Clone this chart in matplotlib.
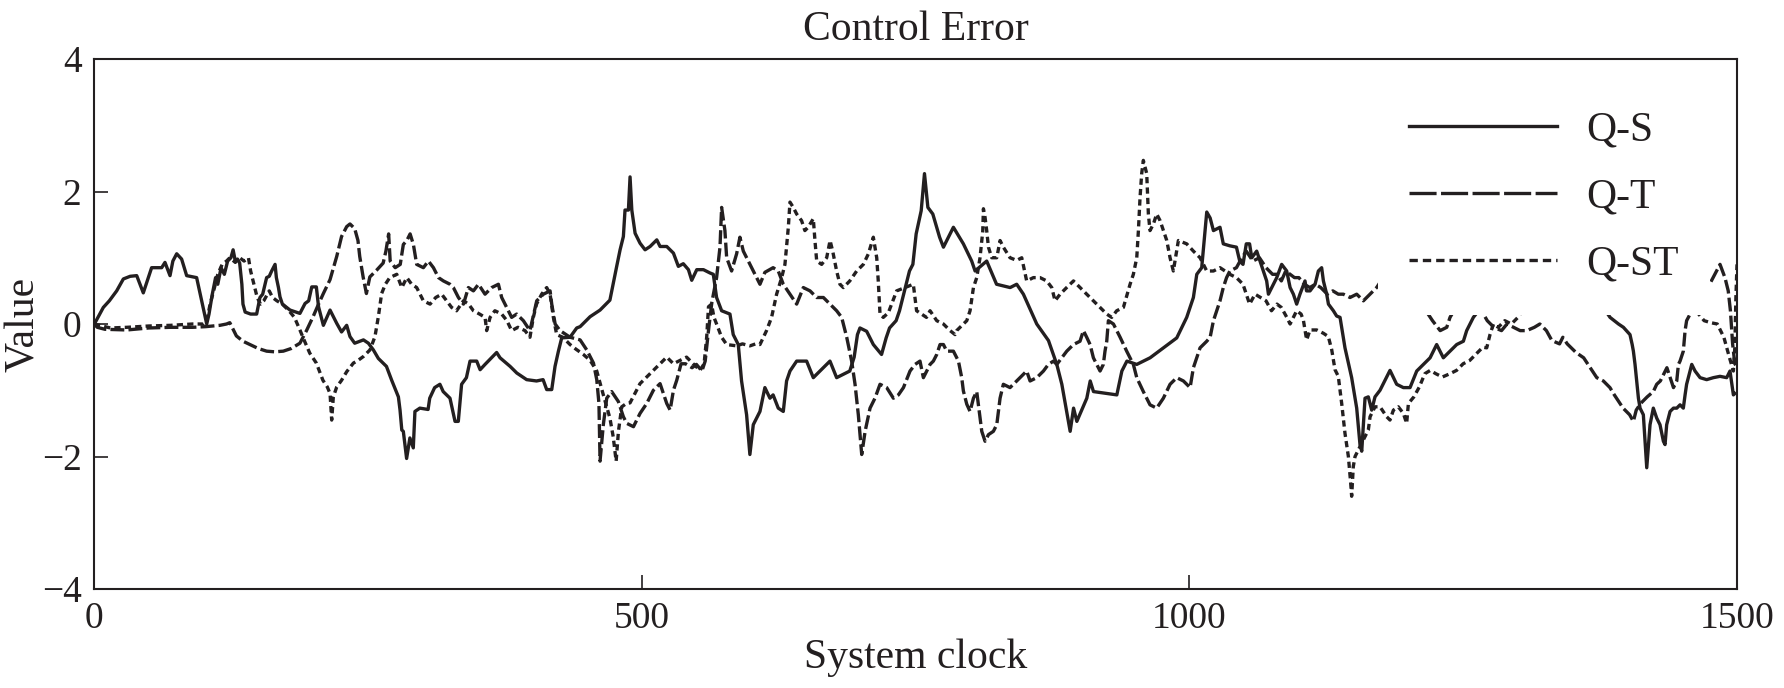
import matplotlib
matplotlib.use('Agg')
import matplotlib.pyplot as plt
from matplotlib.lines import Line2D

# ---------------- data ----------------
series_names = ['Q-S', 'Q-T', 'Q-ST']

qs_clock = [0, 1, 8.5, 14, 20.7, 26.8, 33, 39, 45, 49.6, 52.6, 61.8, 64.8, 69.4, 72, 75.5, 80, 84.6, 93.7, 98.3,
            102.9, 105, 108, 111, 113, 116, 119, 122, 125, 127, 129, 131, 133, 135, 136, 138, 143, 148.5, 151.5, 154,
            157.6, 160, 162.2, 165.3, 166.5, 168.4, 169.8, 172, 179, 188, 192.7, 196, 198.8, 203, 205, 209.4, 215.5,
            221.6, 226, 230.7, 233.7, 238, 246, 250.5, 255, 259.6, 267, 271.8, 277.9, 279.4, 281, 282.4, 285.4, 288.4,
            291.5, 293, 297.5, 305, 306.5, 311, 315.8, 318.8, 325, 329.6, 332.6, 335.6, 340, 343.3, 349.4, 352.5, 357,
            367.6, 370.7, 379.9, 386, 395, 404, 410, 413.3, 417.9, 420.9, 424, 427, 434.6, 440.7, 443.8, 452.9, 462,
            471, 474, 477.2, 480.3, 483.3, 484.8, 487.9, 489.4, 491, 494, 498.5, 503.1, 507.7, 513.8, 516.8, 522.9,
            529, 533.5, 538, 542.7, 545.7, 550.3, 556.4, 562.4, 565.4, 568.4, 573, 580.6, 583.6, 588.2, 591.2, 595.8,
            598.8, 601.9, 608, 612.5, 617.1, 620, 624.7, 629.3, 632.3, 635.4, 641.5, 650.6, 656.7, 662.8, 671.9, 678,
            690, 694, 697, 699.3, 705.4, 711.5, 719, 723.2, 726.3, 732.3, 735.4, 740, 744.5, 747.6, 750.6, 755.2,
            758.2, 761.3, 765.8, 772, 775.5, 784.6, 793.7, 801.3, 804.4, 815, 824, 836.4, 842.4, 848.5, 860.7, 871.4,
            879, 883.6, 891.2, 894.3, 897.3, 906.4, 909.5, 912.5, 933.8, 938.4, 943, 952, 964.2, 976.3, 988.5, 997.6,
            1003.7, 1006.8, 1011.3, 1015.9, 1019, 1022, 1028, 1031, 1037, 1043, 1046, 1049, 1052, 1055, 1057, 1061.5,
            1064.5, 1067.6, 1070.6, 1072.2, 1076.7, 1079.8, 1084.3, 1088.9, 1092, 1095, 1098, 1101, 1105.6, 1107,
            1110.2, 1114.8, 1117.8, 1120.8, 1122.4, 1125.4, 1127, 1131.5, 1134.5, 1137.6, 1142.1, 1148.2, 1152.8,
            1155.8, 1157.4, 1160.4, 1163.4, 1166.5, 1169.5, 1174.1, 1180.2, 1183.2, 1189.3, 1195.4, 1201.5, 1207.6,
            1213.7, 1219.8, 1225.8, 1231.9, 1238, 1244.1, 1250.2, 1253.2, 1259.3, 1264, 1275, 1295, 1320, 1345, 1365,
            1378, 1384.1, 1391.8, 1396.3, 1399.5, 1402.3, 1404.3, 1405.4, 1406.9, 1408.4, 1410, 1411.5, 1414.5,
            1417.6, 1420.6, 1423.6, 1426.7, 1429.7, 1432.8, 1434.3, 1435.8, 1438.9, 1442, 1445, 1448, 1451, 1452.6,
            1454, 1455.6, 1458.7, 1461.7, 1466.3, 1472.3, 1478.4, 1484.5, 1490.6, 1493.6, 1496.7, 1498]
qs_value = [0.0, 0.02, 0.25, 0.35, 0.5, 0.68, 0.72, 0.73, 0.47, 0.70, 0.85, 0.85, 0.93, 0.73, 0.95, 1.06, 0.98, 0.73, 0.70, 0.35,
            0.0, 0.15, 0.45, 0.7, 0.6, 0.85, 0.75, 0.95, 1.0, 1.12, 0.95, 0.98, 0.92, 0.6, 0.3, 0.18, 0.15, 0.15, 0.4, 0.45,
            0.7, 0.72, 0.8, 0.9, 0.7, 0.55, 0.41, 0.3, 0.21, 0.16, 0.31, 0.35, 0.56, 0.56, 0.26, -0.02, 0.21,
            0.01, -0.12, -0.02, -0.19, -0.29, -0.24, -0.29, -0.39, -0.52, -0.64, -0.85, -1.1, -1.3, -1.6, -1.62, -2.03, -1.72,
            -1.87, -1.32, -1.27, -1.29, -1.12, -0.96, -0.91, -1.02, -1.12, -1.47, -1.47, -0.91, -0.81, -0.56, -0.56, -0.69, -0.61,
            -0.43, -0.51, -0.64, -0.74, -0.84, -0.86, -0.84, -0.99, -0.99, -0.64, -0.41, -0.21, -0.2, -0.06, -0.04, 0.11, 0.21,
            0.36, 0.61, 0.87, 1.12, 1.32, 1.72, 1.72, 2.22, 1.72, 1.37, 1.22, 1.12, 1.17, 1.27, 1.17, 1.17,
            1.07, 0.87, 0.91, 0.82, 0.66, 0.82, 0.82, 0.77, 0.75, 0.4, 0.2, 0.15, -0.16, -0.31, -0.86, -1.37,
            -1.97, -1.52, -1.32, -0.96, -1.12, -1.07, -1.27, -1.32, -0.86, -0.71, -0.56, -0.56, -0.81, -0.71, -0.56, -0.81,
            -0.71, -0.5, -0.16, -0.06, -0.11, -0.31, -0.46, -0.21, -0.06, 0.05, 0.2, 0.5, 0.8, 0.9, 1.36, 1.71,
            2.27, 1.76, 1.66, 1.31, 1.16, 1.46, 1.21, 0.95, 0.8, 0.95, 0.6, 0.55, 0.6, 0.45, 0.0, -0.25,
            -0.61, -0.91, -1.62, -1.27, -1.47, -1.12, -0.86, -1.02, -1.07, -0.71, -0.56, -0.61, -0.51, -0.36, -0.21, 0.1,
            0.4, 0.75, 0.85, 1.69, 1.6, 1.41, 1.46, 1.21, 1.18, 1.16, 0.95, 0.9, 1.21, 1.21, 1.0, 1.1,
            0.95, 0.8, 0.65, 0.45, 0.6, 0.7, 0.9, 0.8, 0.55, 0.45, 0.3, 0.45, 0.65, 0.5,
            0.5, 0.6, 0.8, 0.85, 0.65, 0.45, 0.3, 0.2, 0.12, 0.1, -0.36, -0.81, -1.27,
            -1.82, -1.92, -1.12, -1.1, -1.3, -1.1, -1.0, -0.8, -0.7, -0.91, -0.96, -0.96, -0.71,
            -0.61, -0.51, -0.31, -0.51, -0.41, -0.31, -0.26, -0.1, 0.1, 0.2, 0.35, 0.45, 0.4, 0.5, 0.35,
            0.25, 0.1, 0.0, -0.05, -0.11, -0.16, -0.31, -0.41, -0.61, -0.86, -1.12, -1.27, -1.37,
            -2.17, -1.52, -1.27, -1.42, -1.52, -1.77, -1.82, -1.52, -1.32, -1.27, -1.27, -1.22, -1.27, -1.07,
            -0.91, -0.81, -0.61, -0.71, -0.81, -0.84, -0.81, -0.79, -0.81, -0.71, -1.07, -1.05]

qt_clock = [0, 3, 10, 30, 50, 70, 90, 102, 115, 121, 124, 127, 130, 136, 142.4, 150, 157.6, 165, 172.8, 180, 188, 194,
            200, 205, 209.4, 215.5, 221.6, 226, 230.7, 233.7, 238, 241, 242.6, 245.7, 248.7, 251.8, 257.9, 264, 266.5,
            269, 270.4, 275, 279.6, 282.4, 285.6, 288.6, 291.6, 294.6, 300.7, 305.3, 309.9, 314.5, 319, 325, 328.1,
            332.7, 337.3, 341.8, 346.4, 351, 357, 363.1, 369.2, 372.2, 376.8, 381.3, 385.9, 392, 398, 404.2, 410.3,
            416.4, 417.9, 421, 425.5, 434.6, 443.8, 449.8, 456, 459, 461, 462, 465, 468.1, 472.6, 478.7, 483.3, 486.4,
            492.5, 498.5, 504.6, 510.7, 516.8, 522.9, 526, 529, 532, 536, 540, 546, 550, 555, 558, 561, 564, 568.4,
            571.5, 573, 576, 577.6, 582.1, 586.7, 589.7, 592.8, 598.9, 605, 608, 612.5, 620, 624.7, 629.3, 635.4,
            641.5, 647.6, 653.7, 659.8, 665.9, 672, 678, 682.6, 687.2, 691.7, 694.8, 697.8, 700.9, 704, 708.5, 713,
            717.6, 723.7, 729.8, 734.4, 739, 745, 749.6, 754.1, 757.2, 763.3, 766.3, 769.4, 772.4, 775.5, 778.5,
            784.6, 789.2, 792.2, 793.7, 796.8, 799.8, 802.9, 805.9, 807.4, 808.9, 810.5, 813.5, 816.6, 821.1, 824.2,
            825.7, 827.2, 830.2, 836.3, 842.4, 848.5, 851.5, 854.6, 860.7, 866.8, 871.3, 875.9, 879, 883.5, 888.1,
            894.2, 900.2, 903.3, 906.3, 909.4, 912.4, 915.5, 918.5, 921.5, 923, 924.6, 926.1, 930.7, 936.8, 942.8,
            948.9, 952, 958, 964.1, 970.2, 976.3, 982.4, 988.5, 994.6, 1000.7, 1003.7, 1006.7, 1009.8, 1015.9, 1019,
            1022, 1025, 1028, 1031, 1034, 1037, 1043, 1048, 1052, 1058, 1064, 1070, 1076, 1080, 1084, 1088, 1092,
            1096, 1100, 1105, 1110, 1115, 1120, 1126, 1131, 1136, 1140.6, 1146.7, 1152.8, 1158.9, 1165, 1171, 1175,
            1185, 1198, 1210, 1218, 1222, 1229, 1235, 1238, 1245, 1255, 1265, 1272, 1278, 1285, 1290, 1296, 1302,
            1308, 1315, 1320, 1326, 1331, 1338, 1341, 1345, 1353, 1360, 1366, 1372, 1378, 1384, 1388, 1392, 1396,
            1402, 1405.4, 1408, 1412, 1418, 1423.6, 1426.7, 1430, 1433, 1436, 1439, 1442, 1445, 1446.5, 1448, 1451,
            1452.6, 1454, 1455.6, 1465, 1475, 1484.5, 1489, 1492, 1494, 1496, 1498, 1500]
qt_value = [0.0, -0.05, -0.08, -0.09, -0.06, -0.05, -0.05, -0.04, -0.02, 0.0, 0.02, -0.08, -0.18, -0.26, -0.31, -0.37, -0.41, -0.42, -0.41, -0.37, -0.29, -0.1,
            0.11, 0.3, 0.46, 0.67, 1.02, 1.32, 1.47, 1.51, 1.44, 1.26, 1.02, 0.71, 0.46, 0.71, 0.81, 0.92, 1.1,
            1.36, 0.95, 0.85, 0.9, 1.2, 1.26, 1.36, 1.2, 0.9, 0.85, 0.95, 0.85, 0.7, 0.65, 0.6, 0.55,
            0.4, 0.3, 0.55, 0.5, 0.6, 0.45, 0.55, 0.6, 0.4, 0.25, 0.1, 0.15, 0.05, -0.1, 0.35, 0.45,
            0.5, 0.3, 0.0, -0.1, -0.2, -0.24, -0.39, -0.59, -0.84, -1.2, -2.07, -1.52, -1.12, -1.02, -1.17, -1.4, -1.5,
            -1.55, -1.35, -1.2, -1.0, -0.9, -1.2, -1.3, -1.0, -0.85, -0.6, -0.6, -0.66, -0.61, -0.71, -0.56, -0.1, 0.32, 0.7,
            1.16, 1.76, 1.41, 1.0, 0.8, 1.06, 1.31, 1.1, 0.9, 0.7, 0.6, 0.78, 0.85, 0.8, 0.6, 0.45,
            0.3, 0.55, 0.5, 0.4, 0.4, 0.3, 0.2, 0.1, -0.2, -0.56, -0.91, -1.37, -1.97, -1.62, -1.27, -1.12,
            -0.91, -0.96, -1.12, -1.07, -0.96, -0.71, -0.61, -0.56, -0.81, -0.61, -0.56, -0.46, -0.31, -0.31, -0.41,
            -0.41, -0.56, -0.81, -1.01, -1.21, -1.32, -1.12, -1.02, -1.22, -1.42, -1.62, -1.77, -1.67, -1.62, -1.52,
            -1.32, -1.12, -0.91, -0.96, -0.86, -0.76, -0.71, -0.86, -0.81, -0.71, -0.61, -0.56, -0.61, -0.51, -0.41,
            -0.31, -0.26, -0.1, -0.2, -0.31, -0.51, -0.61, -0.71, -0.61, -0.41, -0.26, 0.05, 0.0, -0.2, -0.41,
            -0.61, -0.81, -1.02, -1.22, -1.27, -1.12, -0.91, -0.81, -0.86, -0.96, -0.66, -0.51, -0.36, -0.26, -0.2,
            0.05, 0.2, 0.35, 0.55, 0.7, 0.8, 0.85, 1.0, 1.1, 0.95, 1.0, 0.85, 0.75, 0.75, 0.65, 0.8, 0.75,
            0.7, 0.7, 0.6, 0.55, 0.6, 0.55, 0.45, 0.5, 0.45, 0.45, 0.4, 0.45, 0.35, 0.45, 0.55, 0.65,
            0.7, 0.6, 0.4, 0.15, 0.05, -0.1, -0.05, 0.1, 0.3, 0.35, 0.25, 0.05, -0.05, -0.1, 0.0, -0.05, -0.1,
            -0.1, -0.05, 0.0, -0.1, -0.25, -0.3, -0.2, -0.3, -0.43, -0.51, -0.66, -0.81, -0.86, -0.96, -1.07, -1.17, -1.27,
            -1.37, -1.47, -1.3, -1.2, -1.1, -1.02, -0.91, -0.86, -0.76, -0.66, -0.81, -0.96, -0.86, -0.61, -0.56, -0.41,
            -0.1, 0.05, 0.1, 0.4, 0.6, 0.9, 0.7, 0.5, 0.2, -0.3, -0.6, -0.65]

qst_clock = [0, 5, 15, 30, 50, 70, 90, 100, 103, 106, 110, 113, 117, 121, 124, 129, 133, 137, 141, 143, 146, 149, 152,
             155, 160, 163, 167, 172, 178, 183, 188, 192, 197, 203, 209, 213, 215.5, 217, 218.5, 221.6, 226, 230.7,
             236.8, 241, 246, 252, 256.5, 259.6, 262.6, 266, 270, 276.4, 281, 285.6, 290, 294.6, 300.7, 306.8, 312,
             317.4, 322, 326.5, 331, 337.3, 342, 346.4, 352, 357, 358.5, 361.6, 366, 372.2, 377, 381.3, 387, 393.5,
             398, 401.1, 404, 408.7, 413.3, 416.4, 419.4, 422.4, 428, 434.6, 440, 446.8, 453, 459, 465, 471, 474,
             476.7, 478.8, 481.8, 486, 489.4, 492.5, 498.5, 504.6, 510.7, 516.8, 522.9, 529, 535, 541, 547, 553.3,
             557, 559.4, 561, 563.8, 566, 568.4, 573, 577.6, 586.7, 592, 598.9, 604, 608, 614, 618.6, 623.2, 627.8,
             630.8, 633.9, 635.4, 638.4, 641.5, 646, 649, 652, 656.7, 658.2, 659.8, 664.3, 668.9, 672, 674.4, 678,
             681, 684.1, 690, 696.3, 702.4, 707, 711.5, 714.6, 716, 717.6, 720.6, 725.2, 732.8, 740.4, 748, 751, 760,
             763.3, 769.4, 775.5, 781.6, 786.1, 787.6, 793.7, 796.8, 799.8, 802.9, 805.9, 808.9, 811.4, 812, 813.5,
             815, 816.6, 819.6, 824.2, 827.2, 830.2, 836.3, 842.4, 847, 851.5, 857.6, 863.7, 869.8, 874.4, 877.4,
             882, 888, 894.2, 900.2, 906.3, 912.4, 918.5, 924.6, 929.1, 933.7, 939.8, 945.9, 948.9, 952, 953.5, 955,
             956.5, 958, 961.1, 962.6, 964.1, 967.2, 970.2, 973.3, 976.3, 979.4, 982.4, 985.4, 990, 997.6, 1003.7,
             1009.8, 1015.9, 1022, 1028, 1032.6, 1037, 1043, 1049, 1052, 1055, 1060, 1065, 1070, 1075, 1080, 1084,
             1089, 1092, 1098, 1102, 1104.1, 1107.1, 1110.2, 1116.3, 1122.4, 1126.9, 1130, 1133, 1136, 1139.1,
             1142.1, 1145.2, 1147.3, 1148.2, 1149.7, 1151.3, 1154.3, 1157.4, 1160.4, 1163.4, 1165, 1169.5, 1174.1,
             1180.2, 1183.2, 1186.3, 1190.8, 1195.4, 1198.4, 1200, 1205, 1210, 1215, 1220, 1225, 1231, 1238, 1244,
             1250, 1256, 1262, 1268, 1271.5, 1274.5, 1277.6, 1282, 1288, 1294, 1300, 1306, 1320, 1350, 1380, 1410,
             1440, 1458, 1465, 1470, 1476, 1482, 1488, 1493, 1496.7, 1498, 1499, 1500]
qst_value = [0.0, -0.02, -0.06, -0.05, -0.03, -0.02, 0.0, 0.0, 0.05, 0.3, 0.55, 0.75, 0.9, 0.95, 1.0, 0.93, 1.0, 0.95, 1.0, 0.8, 0.6, 0.4, 0.3,
             0.35, 0.5, 0.4, 0.35, 0.3, 0.2, 0.1, -0.09, -0.25, -0.44, -0.59, -0.85, -0.95, -1.05, -1.45, -1.1, -0.95, -0.85, -0.72,
             -0.59, -0.55, -0.49, -0.39, -0.19, 0.11, 0.46, 0.6, 0.7, 0.75, 0.55, 0.7, 0.6, 0.55, 0.35, 0.3, 0.4,
             0.45, 0.35, 0.25, 0.2, 0.35, 0.3, 0.2, 0.15, 0.1, -0.1, 0.1, 0.2, 0.15, 0.05, -0.1, -0.05, -0.1,
             -0.2, 0.1, 0.3, 0.45, 0.55, 0.45, 0.1, -0.16, -0.2, -0.31, -0.38, -0.46, -0.55, -0.71, -1.07, -1.42, -1.7,
             -2.07, -1.62, -1.25, -1.2, -1.19, -1.09, -0.9, -0.8, -0.7, -0.6, -0.5, -0.6, -0.55, -0.5, -0.6, -0.7,
             -0.6, -0.19, 0.26, 0.3, 0.1, 0.0, -0.2, -0.31, -0.33, -0.3, -0.33, -0.3, -0.31, -0.1, 0.1, 0.45, 0.7,
             0.9, 1.46, 1.84, 1.76, 1.66, 1.56, 1.41, 1.46, 1.59, 1.26, 0.95, 0.9, 1.0, 1.26, 1.1, 0.8,
             0.6, 0.55, 0.65, 0.8, 0.9, 1.06, 1.31, 1.0, 0.65, 0.15, 0.1, 0.17, 0.5, 0.55, 0.6, 0.2, 0.1,
             0.2, 0.05, 0.0, -0.1, -0.16, -0.1, 0.0, 0.05, 0.2, 0.55, 0.7, 1.0, 1.4, 1.74, 1.61,
             1.41, 1.16, 1.0, 1.0, 1.26, 1.16, 1.0, 0.96, 1.0, 0.65, 0.7, 0.7, 0.65, 0.55, 0.35,
             0.45, 0.55, 0.65, 0.55, 0.45, 0.35, 0.25, 0.15, 0.1, 0.2, 0.25, 0.6, 0.75, 1.0, 1.41, 1.91,
             2.27, 2.47, 2.27, 1.66, 1.41, 1.51, 1.66, 1.56, 1.41, 1.26, 1.0, 0.8, 1.26, 1.21, 1.1,
             1.0, 0.8, 0.8, 0.85, 0.8, 0.75, 0.7, 0.6, 0.45, 0.3, 0.45, 0.4, 0.35, 0.2, 0.3, 0.25,
             0.1, 0.0, 0.2, 0.15, 0.06, -0.24, -0.09, -0.09, -0.14, -0.19, -0.39, -0.69, -0.79, -1.2,
             -1.65, -2.0, -2.4, -2.6, -2.15, -2.0, -1.9, -1.8, -1.7, -1.6, -1.4, -1.25, -1.25,
             -1.4, -1.45, -1.3, -1.25, -1.35, -1.5, -1.2, -1.1, -0.95, -0.75, -0.7, -0.75, -0.8, -0.75, -0.7,
             -0.6, -0.55, -0.45, -0.35, -0.36, -0.16, 0.0, -0.05, 0.05, 0.0, 0.1, 0.25, 0.45, 0.5, 0.4, 0.35,
             0.3, 0.25, 0.15, 0.05, 0.02, 0.0, -0.2, -0.5, -0.71, -0.36, 0.4, 0.9]

x_ticks = [0, 500, 1000, 1500]
y_ticks = [-4, -2, 0, 2, 4]

# ---------------- style ----------------
plt.rcParams['font.family'] = ['Liberation Serif', 'DejaVu Serif']
plt.rcParams['lines.scale_dashes'] = False
plt.rcParams['axes.unicode_minus'] = True
INK = '#231f20'

W, H = 1784, 688
fig = plt.figure(figsize=(W / 100, H / 100), dpi=100)
ax = fig.add_axes([94 / W, 1 - 589 / H, (1737 - 94) / W, (589 - 59) / H])

lw = 2.4
ax.plot(qs_clock, qs_value, color=INK, lw=lw, ls='-', solid_joinstyle='round')
ax.plot(qt_clock, qt_value, color=INK, lw=lw, ls=(0, (10, 3)), dash_joinstyle='round')
ax.plot(qst_clock, qst_value, color=INK, lw=lw, ls=(0, (4.5, 3)), dash_joinstyle='round')

ax.set_xlim(0, 1500)
ax.set_ylim(-4, 4)
ax.set_xticks(x_ticks)
ax.set_yticks(y_ticks)
ax.tick_params(direction='in', length=10, width=1.2, labelsize=27, pad=9, colors=INK)
for sp in ax.spines.values():
    sp.set_linewidth(1.5)
    sp.set_color(INK)

ax.set_title('Control Error', fontsize=30, pad=14, color=INK)
ax.set_xlabel('System clock', fontsize=30, labelpad=2, color=INK)
ax.set_ylabel('Value', fontsize=30, color=INK)
ax.yaxis.set_label_coords(-0.031, 0.5)

handles = [Line2D([], [], color=INK, lw=lw, ls='-'),
           Line2D([], [], color=INK, lw=lw, ls=(0, (19.5, 3.2))),
           Line2D([], [], color=INK, lw=lw, ls=(0, (6, 3.6)))]
leg = ax.legend(handles, series_names, loc='lower left', bbox_to_anchor=(0.7815, 0.517),
                borderaxespad=0, borderpad=0.75, handlelength=3.55, handletextpad=0.7,
                labelspacing=0.69, fontsize=30, frameon=True, fancybox=False,
                edgecolor='none', facecolor='white', framealpha=1)
for t in leg.get_texts():
    t.set_color(INK)

fig.savefig('out.png', dpi=100)
